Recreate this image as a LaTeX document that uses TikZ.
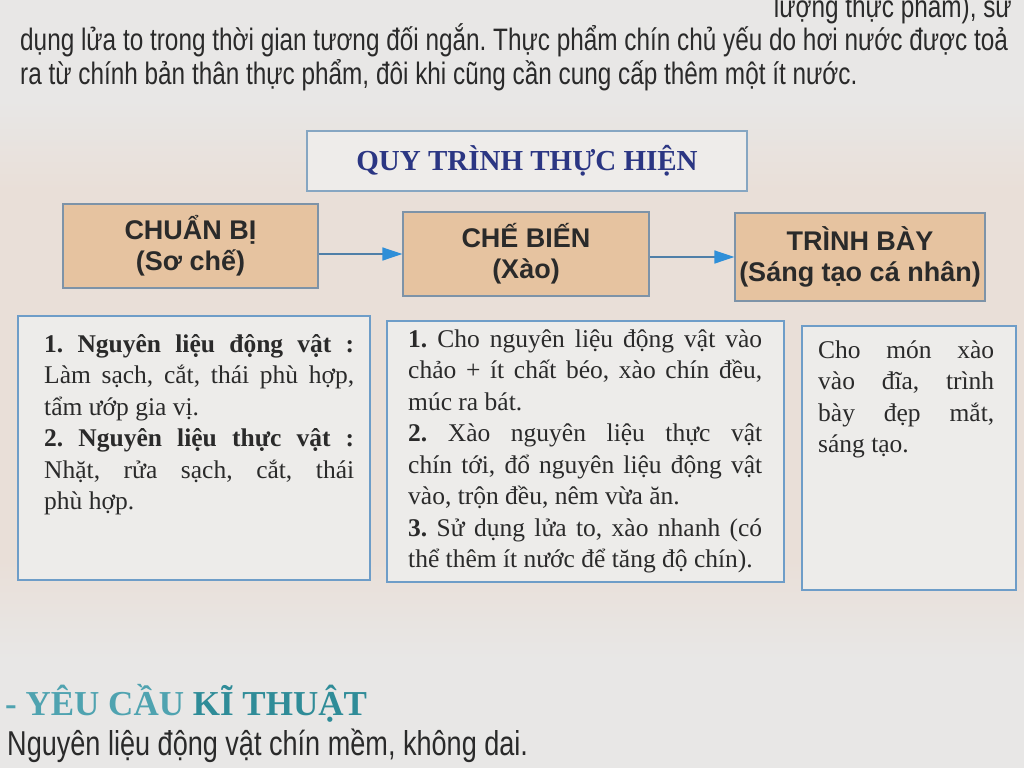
\documentclass[tikz,border=0pt]{standalone}
\usepackage{fontspec}
\setmainfont{Liberation Serif}
\newfontfamily\condsans[FakeStretch=0.785]{Liberation Sans}
\newfontfamily\headsans{Liberation Sans}
\usetikzlibrary{arrows.meta}
\frenchspacing
\definecolor{bgcol}{HTML}{E8E7E6}
\definecolor{bandcol}{HTML}{E9DFD8}
\definecolor{tanfill}{HTML}{E6C3A0}
\definecolor{tanline}{HTML}{7D93A8}
\definecolor{titlefill}{HTML}{EEECEA}
\definecolor{titleline}{HTML}{86A6C2}
\definecolor{titletext}{HTML}{2B3683}
\definecolor{detfill}{HTML}{EDECEA}
\definecolor{detline}{HTML}{6E9DC8}
\definecolor{inktext}{HTML}{2A2A2A}
\definecolor{teallight}{HTML}{4FA3B0}
\definecolor{tealdark}{HTML}{2F8C98}
\definecolor{arrowline}{HTML}{4F7FA8}
\definecolor{arrowblue}{HTML}{2F8FD8}
\newcommand\jl[1]{\hbox to \hsize{#1}}
\newcommand\lastl[1]{\hbox to \hsize{#1\hfil}}
\newcommand\bodybox[2]{\vtop{\hsize=#1\relax\fontsize{25.5pt}{31.5pt}\selectfont #2}}
\tikzset{
  tanbox/.style={draw=tanline, fill=tanfill, line width=1.2pt, align=center,
    text=inktext, font=\headsans\bfseries\fontsize{27pt}{31pt}\selectfont, inner sep=0pt},
  detbox/.style={draw=detline, fill=detfill, line width=1.2pt, inner sep=0pt},
  bodytext/.style={anchor=base west, inner sep=0pt, text=inktext},
  pagetext/.style={anchor=base west, inner sep=0pt, text=inktext,
    font=\condsans\fontsize{31pt}{36pt}\selectfont},
  flow/.style={draw=arrowline, line width=1.5pt,
    -{Triangle[length=20pt,width=13pt,color=arrowblue]}}
}
\begin{document}
\begin{tikzpicture}[x=1pt,y=-1pt]
\useasboundingbox (0,0) rectangle (1024,768);
\fill[bgcol] (0,0) rectangle (1024,768);
\shade[top color=bgcol, bottom color=bandcol] (0,100) rectangle (1024,190);
\fill[bandcol] (0,189.5) rectangle (1024,560.5);
\shade[top color=bandcol, bottom color=bgcol] (0,560) rectangle (1024,660);

% page text above
\node[pagetext, anchor=base east] (l1) at (1012,18) {lượng thực phẩm), sử};
\node[pagetext] (l2) at (20,50) {dụng lửa to trong thời gian tương đối ngắn. Thực phẩm chín chủ yếu do hơi nước được toả};
\node[pagetext] (l3) at (20,84) {ra từ chính bản thân thực phẩm, đôi khi cũng cần cung cấp thêm một ít nước.};

% title
\node[draw=titleline, fill=titlefill, line width=1.2pt, minimum width=440pt, minimum height=60pt,
  inner sep=0pt, text=titletext, font=\bfseries\fontsize{29pt}{32pt}\selectfont] (title) at (527,161) {QUY TRÌNH THỰC HIỆN};

% stage boxes
\node[tanbox, minimum width=255pt, minimum height=84pt] (prep) at (190.5,246) {CHUẨN BỊ\\(Sơ chế)};
\node[tanbox, minimum width=246pt, minimum height=84pt] (cook) at (526,254) {CHẾ BIẾN\\(Xào)};
\node[tanbox, minimum width=250pt, minimum height=88pt] (pres) at (860,257) {TRÌNH BÀY\\(Sáng tạo cá nhân)};

\draw[flow] (prep.east |- cook.west) -- (cook.west);
\draw[flow] (cook.east |- pres.west) -- (pres.west);

% detail boxes
\node[detbox, minimum width=352pt, minimum height=264pt] (prepd) at (194,448) {};
\node[detbox, minimum width=397pt, minimum height=261pt] (cookd) at (585.5,451.5) {};
\node[detbox, minimum width=214pt, minimum height=264pt] (presd) at (909,458) {};

\node[bodytext] (prept) at (44,352) {\bodybox{310pt}{%
\jl{\textbf{1. Nguyên liệu động vật :}}
\jl{Làm sạch, cắt, thái phù hợp,}
\lastl{tẩm ướp gia vị.}
\jl{\textbf{2. Nguyên liệu thực vật :}}
\jl{Nhặt, rửa sạch, cắt, thái}
\lastl{phù hợp.}}};

\node[bodytext] (cookt) at (408,347) {\bodybox{354pt}{%
\jl{\textbf{1.} Cho nguyên liệu động vật vào}
\jl{chảo + ít chất béo, xào chín đều,}
\lastl{múc ra bát.}
\jl{\textbf{2.} Xào nguyên liệu thực vật}
\jl{chín tới, đổ nguyên liệu động vật}
\lastl{vào, trộn đều, nêm vừa ăn.}
\jl{\textbf{3.} Sử dụng lửa to, xào nhanh (có}
\lastl{thể thêm ít nước để tăng độ chín).}}};

\node[bodytext] (prest) at (818,358) {\bodybox{176pt}{%
\jl{Cho món xào}
\jl{vào đĩa, trình}
\jl{bày đẹp mắt,}
\lastl{sáng tạo.}}};

% requirement heading and text
\node[anchor=base west, inner sep=0pt, text=tealdark,
  font=\bfseries\fontsize{35pt}{38pt}\selectfont] (req) at (5,715) {\textcolor{teallight}{- YÊU CẦU} KĨ THUẬT};
\node[pagetext, font=\condsans\fontsize{34.5pt}{38pt}\selectfont] (reqtext) at (7,755) {Nguyên liệu động vật chín mềm, không dai.};
\end{tikzpicture}
\end{document}
